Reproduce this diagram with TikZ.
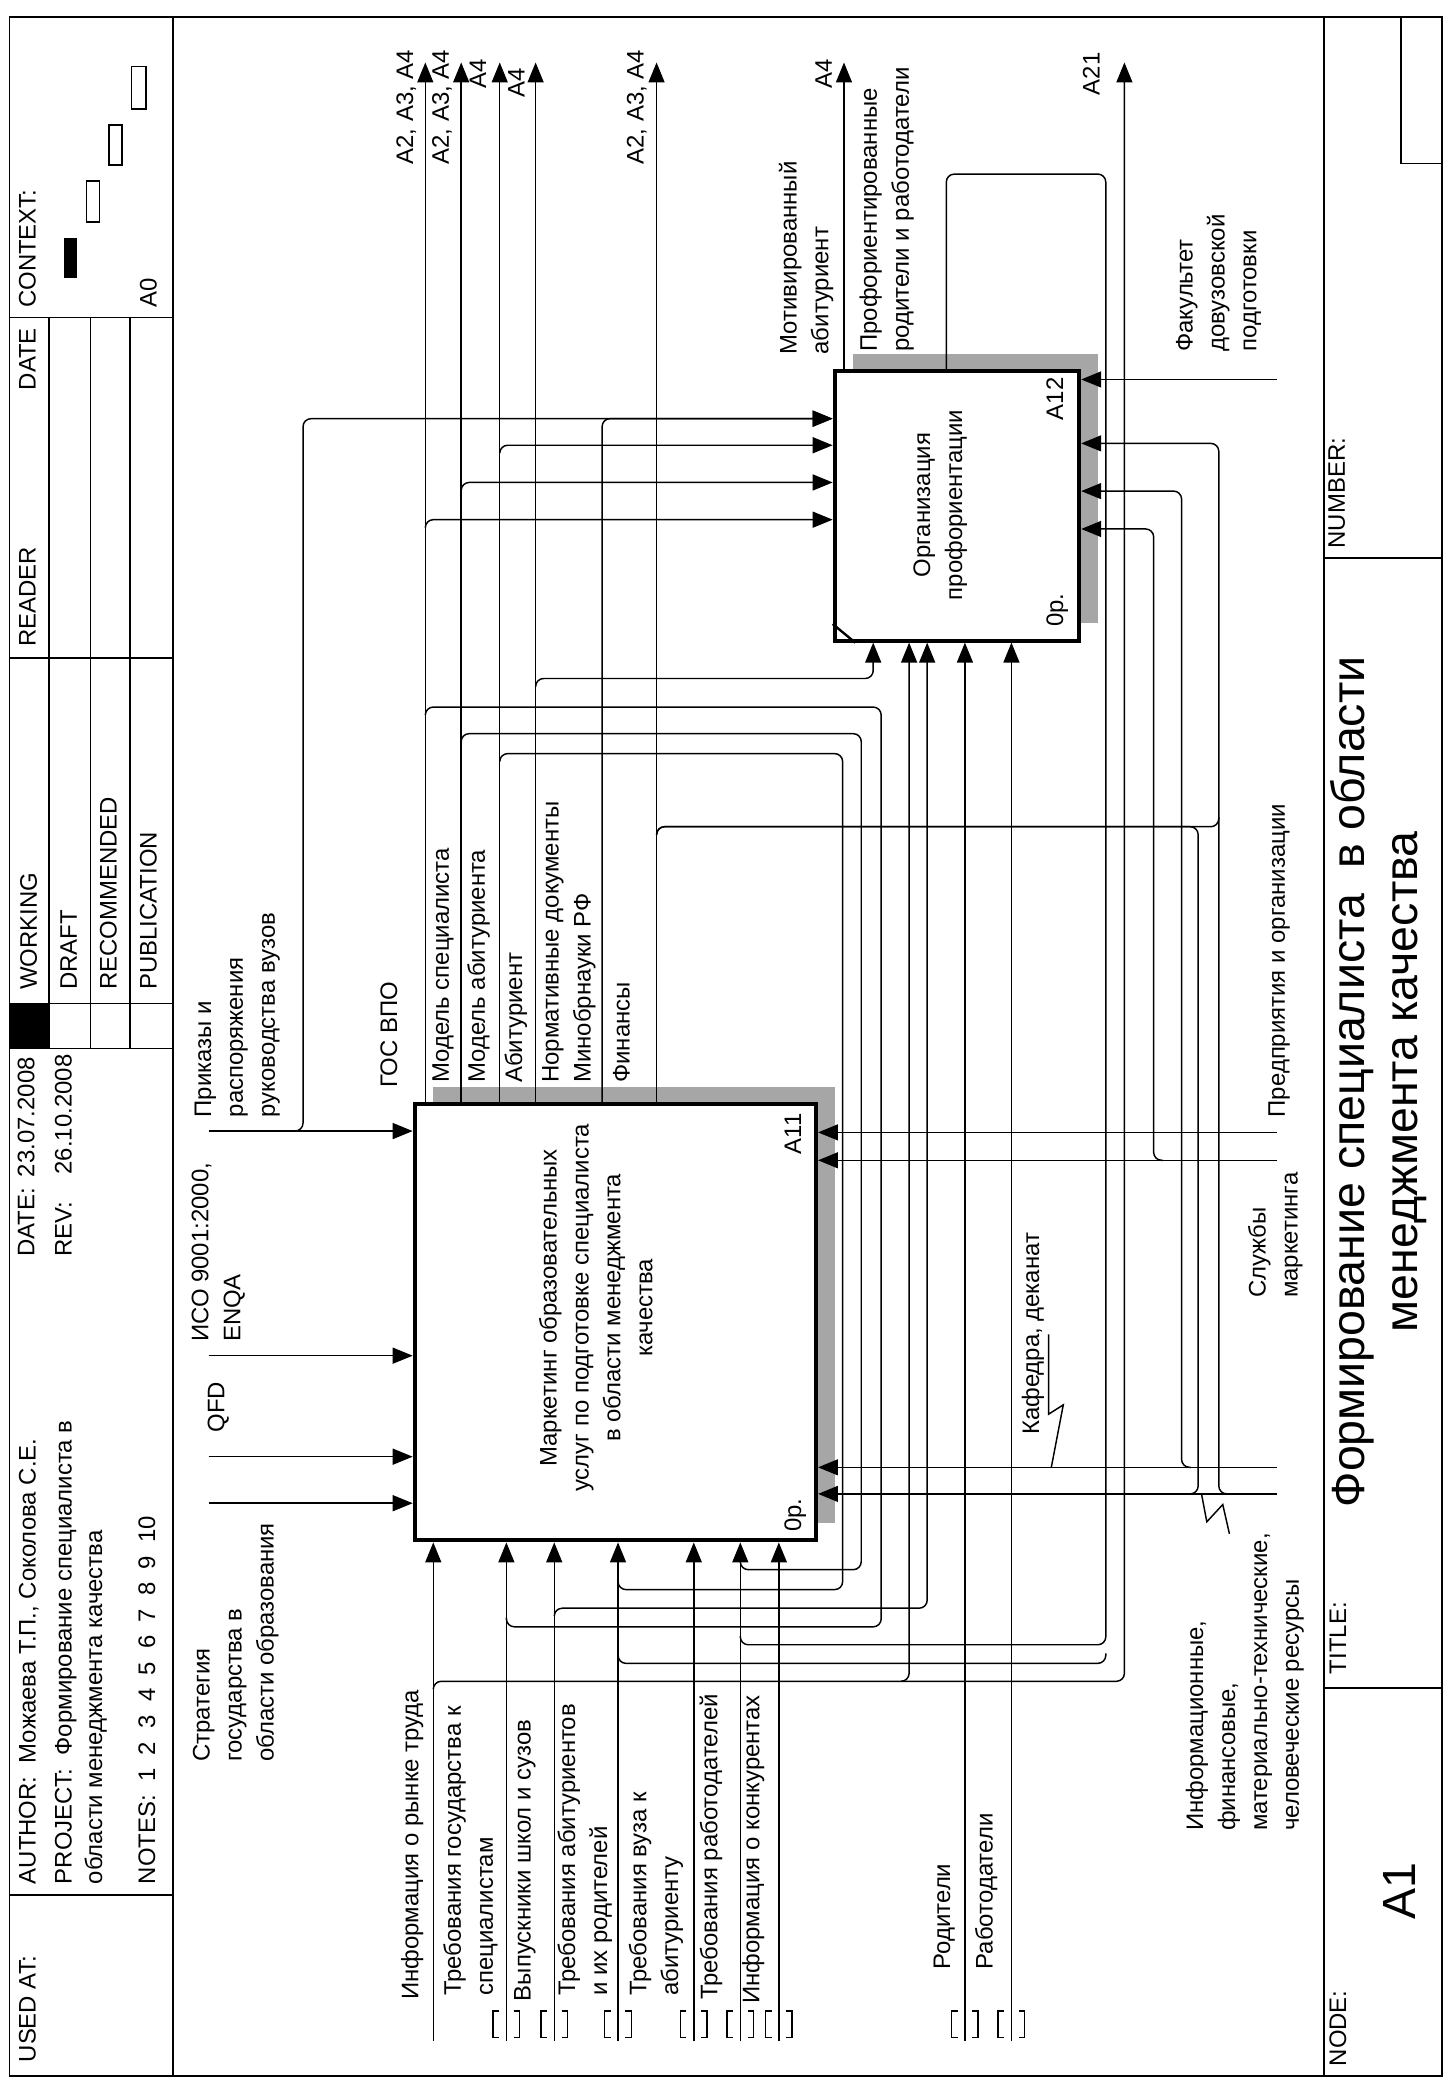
\documentclass[tikz,border=0pt]{standalone}
\usepackage{fontspec}
\setmainfont{Liberation Sans}
\usetikzlibrary{arrows.meta}
\begin{document}
\begin{tikzpicture}[x=0.5pt,y=-0.5pt,
  ln/.style={line width=0.55pt, rounded corners=3pt},
  arr/.style={ln, -{Triangle[length=7.5pt,width=6pt]}},
  fr/.style={line width=0.6pt},
  lbl/.style={rotate=90, anchor=west, inner sep=0pt, align=left, font=\fontsize{9}{12}\selectfont},
  ctr/.style={rotate=90, anchor=center, inner sep=0pt, align=center, font=\fontsize{9}{12}\selectfont},
  big/.style={rotate=90, anchor=center, inner sep=0pt, align=center, font=\fontsize{17.5}{20}\selectfont},
  box/.style={draw, line width=1.5pt, fill=white, inner sep=0pt},
  shd/.style={fill=black!35},
  brk/.style={line width=0.55pt}
]
\useasboundingbox (0,0) rectangle (1094,1568);
\fill[white] (0,0) rectangle (1094,1568);

% ---------- frame and header ----------
\draw[fr] (7,13) rectangle (1085,1562);
\draw[fr] (130,13) -- (130,1562);
\draw[fr] (7,239) -- (130,239);
\draw[fr] (37,239) -- (37,789);
\draw[fr] (68,239) -- (68,789);
\draw[fr] (98,239) -- (98,789);
\draw[fr] (7,495) -- (130,495);
\draw[fr] (37,755) -- (130,755);
\draw[fr] (7,789) -- (130,789);
\fill (7,755) rectangle (37,789);
\draw[fr] (7,1426) -- (130,1426);
\fill (48,179) rectangle (58,209);
\draw[fr] (65,136) rectangle (75,167);
\draw[fr] (82,94) rectangle (92,124);
\draw[fr] (99,50) rectangle (110,82);

\node[lbl] (hctx) at (22,232) {\strut CONTEXT:};
\node[lbl] (ha0) at (113,232) {\strut A0};
\node[lbl] (hdate) at (22,294) {\strut DATE};
\node[lbl] (hread) at (22,487) {\strut READER};
\node[lbl] (hwork) at (23,745) {\strut WORKING};
\node[lbl] (hdraft) at (53,745) {\strut DRAFT};
\node[lbl] (hrec) at (83,745) {\strut RECOMMENDED};
\node[lbl] (hpub) at (113,745) {\strut PUBLICATION};
\node[lbl] (hdl) at (21,946) {\strut DATE:};
\node[lbl] (hdv) at (21,886) {\strut 23.07.2008};
\node[lbl] (hrl) at (49,946) {\strut REV:};
\node[lbl] (hrv) at (49,884) {\strut 26.10.2008};
\node[lbl] (hauth) at (22,1418) {\strut AUTHOR:\ \ Можаева Т.П., Соколова С.Е.};
\node[lbl] (hproj) at (49,1418) {\strut PROJECT:\ \ Формирование специалиста в};
\node[lbl] (hproj2) at (72,1418) {\strut области менеджмента качества};
\node[lbl] (hnotes) at (112,1418) {\strut NOTES:\ \ 1\ \ 2\ \ 3\ \ 4\ \ 5\ \ 6\ \ 7\ \ 8\ \ 9\ \ 10};
\node[lbl] (hused) at (22,1552) {\strut USED AT:};

% ---------- title block ----------
\draw[fr] (996,13) -- (996,1562);
\draw[fr] (996,420) -- (1085,420);
\draw[fr] (996,1270) -- (1085,1270);
\draw[fr] (1054,13) rectangle (1085,123);
\node[lbl] (tnum) at (1007,413) {\strut NUMBER:};
\node[lbl] (ttit) at (1008,1260) {\strut TITLE:};
\node[lbl] (tnode) at (1008,1555) {\strut NODE:};
\node[big] (tA1) at (1053,1423) {A1};
\node[big] (ttext) at (1037,814) {Формирование специалиста\ \ в области\\менеджмента качества};

% ---------- boxes ----------
\fill[shd] (326,818) rectangle (628,1146);
\fill[shd] (642,266) rectangle (826,469);
\node[box, minimum width=151pt, minimum height=164pt] (A11) at (463,995) {};
\node[box, minimum width=92pt, minimum height=101.5pt] (A12) at (720,380.5) {};
\draw[line width=0.9pt] ([yshift=7pt]A12.south west) -- ([xshift=8.5pt]A12.south west);
\node[ctr] (A11t) at (450,984) {\strut Маркетинг образовательных\\\strut услуг по подготовке специалиста\\\strut в области менеджмента\\\strut качества};
\node[ctr] (A12t) at (707,380) {\strut Организация\\\strut профориентации};
\node[ctr] (A11n) at (598,853) {\strut A11};
\node[ctr] (A11c) at (598,1140) {\strut 0р.};
\node[ctr] (A12n) at (795,300) {\strut A12};
\node[ctr] (A12c) at (795,459) {\strut 0р.};

% ---------- A11 controls ----------
\draw[arr] (157,851) -- (A11.west |- 0,851);
\draw[arr] (222,851) -- (228,851) -- (228,315) -- (A12.west |- 0,315);
\draw[arr] (157,1020) -- (A11.west |- 0,1020);
\draw[arr] (157,1096) -- (A11.west |- 0,1096);
\draw[arr] (157,1131) -- (A11.west |- 0,1131);

% ---------- mechanisms ----------
\draw[arr] (961,852) -- (A11.east |- 0,852);
\draw[arr] (961,873) -- (A11.east |- 0,873);
\draw[arr] (875,873) -- (868,873) -- (868,398) -- (A12.east |- 0,398);
\draw[arr] (961,1104) -- (A11.east |- 0,1104);
\draw[arr] (896,1104) -- (889,1104) -- (889,369.5) -- (A12.east |- 0,369.5);
\draw[arr] (961,1124) -- (A11.east |- 0,1124);
\draw[arr] (924,1124) -- (917,1124) -- (917,333.6) -- (A12.east |- 0,333.6);
\draw[arr] (961,285.5) -- (A12.east |- 0,285.5);

% ---------- A11 outputs ----------
\draw[arr] (A11.north -| 320,0) -- (320,47);
\draw[arr] (320,397) -- (320,391) -- (A12.west |- 0,391);
\draw[ln] (320,538) -- (320,532) -- (663,532) -- (663,1224) -- (381,1224) -- (381,1217);
\draw[arr] (A11.north -| 347,0) -- (347,47);
\draw[arr] (347,369) -- (347,363) -- (A12.west |- 0,363);
\draw[ln] (347,558) -- (347,552) -- (648,552) -- (648,1181) -- (557,1181) -- (557,1174);
\draw[arr] (A11.north -| 376,0) -- (376,47);
\draw[arr] (376,341) -- (376,335) -- (A12.west |- 0,335);
\draw[ln] (376,573) -- (376,567) -- (634,567) -- (634,1196) -- (465,1196) -- (465,1189);
\draw[arr] (A11.north -| 403,0) -- (403,47);
\draw[arr] (403,517) -- (403,510.5) -- (657,510.5) -- (A12.south -| 657,0);
\draw[arr] (A11.north -| 453,0) -- (453,315) -- (A12.west |- 0,315);
\draw[arr] (A11.north -| 494,0) -- (494,47);
\draw[ln] (494,628) -- (494,622) -- (901.5,622) -- (901.5,1124) -- (895,1124);
\draw[ln] (494,628) -- (494,622) -- (917,622) -- (917,615);

% ---------- A12 outputs ----------
\draw[arr] (A12.north -| 635,0) -- (635,47);
\draw[ln] (A12.north -| 712,0) -- (712,131) -- (832,131) -- (832,1237.5) -- (557,1237.5) -- (557,1231);
\draw[ln] (832,1244) -- (832,1251.5) -- (465,1251.5) -- (465,1245);

% ---------- inputs ----------
\draw[arr] (326,1536) -- (A11.south -| 326,0);
\draw[arr] (326,1271) -- (326,1265) -- (846,1265) -- (846,47);
\draw[arr] (678,1265) -- (684,1265) -- (A12.south -| 684,0);
\draw[arr] (381,1536) -- (A11.south -| 381,0);
\draw[arr] (417,1536) -- (A11.south -| 417,0);
\draw[arr] (417,1216) -- (417,1210) -- (697.6,1210) -- (A12.south -| 697.6,0);
\draw[arr] (465,1536) -- (A11.south -| 465,0);
\draw[arr] (522,1536) -- (A11.south -| 522,0);
\draw[arr] (557,1536) -- (A11.south -| 557,0);
\draw[arr] (586,1536) -- (A11.south -| 586,0);
\draw[arr] (726,1536) -- (A12.south -| 726,0);
\draw[arr] (761,1536) -- (A12.south -| 761,0);

\foreach \bx in {381,417,465,522,557,586,726,761} {
  \draw[brk] (\bx-5.5,1513) -- (\bx-10,1513) -- (\bx-10,1533) -- (\bx-5.5,1533);
  \draw[brk] (\bx+5.5,1513) -- (\bx+10,1513) -- (\bx+10,1533) -- (\bx+5.5,1533);
}

% squiggles
\draw[line width=0.55pt] (789,1004) -- (789,1064) -- (800,1057) -- (791,1104);
\draw[line width=0.55pt] (904,1124) -- (908,1145) -- (920,1132) -- (925,1154);

% ---------- labels ----------
\node[lbl] (l1) at (306,124) {\strut A2, A3, A4};
\node[lbl] (l2) at (333,124) {\strut A2, A3, A4};
\node[lbl] (l3) at (361,67) {\strut A4};
\node[lbl] (l4) at (390,74) {\strut A4};
\node[lbl] (l5) at (479.5,124) {\strut A2, A3, A4};
\node[lbl] (l6) at (621,67) {\strut A4};
\node[lbl] (l7) at (822.5,72) {\strut A21};
\node[lbl] (l8) at (606.5,267) {\strut Мотивированный\\\strut абитуриент};
\node[lbl] (l9) at (667,265) {\strut Профориентированные\\\strut родители и работодатели};
\node[lbl] (l10) at (916.5,265) {\strut Факультет\\\strut довузовской\\\strut подготовки};

\node[lbl] (l11) at (294,819) {\strut ГОС ВПО};
\node[lbl] (l12) at (333,815) {\strut Модель специалиста};
\node[lbl] (l13) at (360,815) {\strut Модель абитуриента};
\node[lbl] (l14) at (388,815) {\strut Абитуриент};
\node[lbl] (l15) at (427.5,815) {\strut Нормативные документы\\\strut Минобрнауки РФ};
\node[lbl] (l16) at (469,815) {\strut Финансы};

\node[lbl] (l17) at (178,841) {\strut Приказы и\\\strut распоряжения\\\strut руководства вузов};
\node[lbl] (l18) at (164,1010) {\strut ИСО 9001:2000,\\\strut ENQA};
\node[lbl] (l19) at (164,1078) {\strut QFD};
\node[lbl] (l20) at (177,1326) {\strut Стратегия\\\strut государства в\\\strut области образования};

\node[lbl] (l21) at (310,1505) {\strut Информация о рынке труда};
\node[lbl] (l22) at (354,1502) {\strut Требования государства к\\\strut специалистам};
\node[lbl] (l23) at (394.5,1506) {\strut Выпускники школ и сузов};
\node[lbl] (l24) at (440,1502) {\strut Требования абитуриентов\\\strut и их родителей};
\node[lbl] (l25) at (493.5,1502) {\strut Требования вуза к\\\strut абитуриенту};
\node[lbl] (l26) at (535,1505) {\strut Требования работодателей};
\node[lbl] (l27) at (566.5,1508) {\strut Информация о конкурентах};
\node[lbl] (l28) at (710,1482) {\strut Родители};
\node[lbl] (l29) at (742,1482) {\strut Работодатели};

\node[lbl] (l30) at (962,841) {\strut Предприятия и организации};
\node[lbl] (l31) at (959.5,977) {\strut Службы\\\strut маркетинга};
\node[lbl] (l32) at (777,1080) {\strut Кафедра, деканат};
\node[lbl] (l33) at (936.5,1378) {\strut Информационные,\\\strut финансовые,\\\strut материально-технические,\\\strut человеческие ресурсы};
\end{tikzpicture}
\end{document}
